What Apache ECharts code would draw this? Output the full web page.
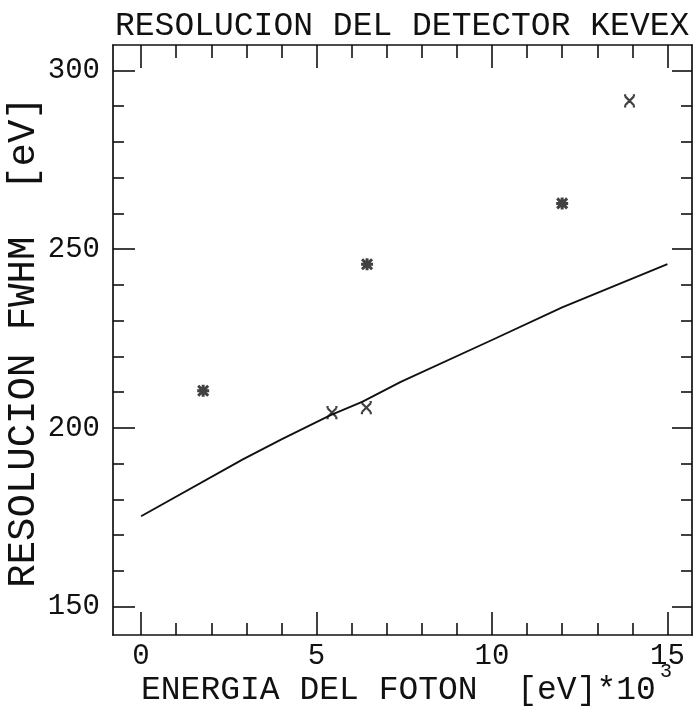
<!DOCTYPE html>
<html><head><meta charset="utf-8">
<script src="https://cdn.jsdelivr.net/npm/echarts@6/dist/echarts.min.js"></script>
<style>html,body{margin:0;padding:0;background:#fff}#c{width:695px;height:706px}</style>
</head><body><div id="c"></div>
<script>
// tick positions
const xMajor = [0, 5, 10, 15];
const xMinor = [1, 2, 3, 4, 6, 7, 8, 9, 11, 12, 13, 14];
const yMajor = [150, 200, 250, 300];
const yMinor = [160, 170, 180, 190, 210, 220, 230, 240, 260, 270, 280, 290];
// fitted resolution curve
const fitX = [0, 2.9, 4.0, 5.4, 6.3, 7.4, 10, 12, 15];
const fitY = [175.3, 191.2, 196.8, 203.6, 207.3, 212.9, 224.6, 233.7, 245.8];
// measured points (asterisk marks)
const starX = [1.77, 6.44, 12.0];
const starY = [210.4, 245.8, 262.8];
// measured points (cross marks)
const crossX = [5.44, 6.42, 13.92];
const crossY = [204.3, 205.7, 291.5];

const FONT = 'Liberation Mono';
const INK = '#111';
const X_MIN = -0.8, X_MAX = 15.7, Y_MIN = 142.1, Y_MAX = 307.1;

function zip(a, b) { return a.map((v, i) => [v, b[i]]); }

function xAx(pos, ticks, len, labels, line) {
  return {
    type: 'value', position: pos, min: X_MIN, max: X_MAX,
    axisLine: { show: line, onZero: false, lineStyle: { color: INK, width: 1.7 } },
    axisTick: { show: true, inside: true, length: len, customValues: ticks, lineStyle: { color: INK, width: 1.6 } },
    axisLabel: { show: labels, customValues: ticks, margin: 7, color: INK, fontFamily: FONT, fontSize: 29 },
    splitLine: { show: false }
  };
}
function yAx(pos, ticks, len, labels, line) {
  return {
    type: 'value', position: pos, min: Y_MIN, max: Y_MAX,
    axisLine: { show: line, onZero: false, lineStyle: { color: INK, width: 1.7 } },
    axisTick: { show: true, inside: true, length: len, customValues: ticks, lineStyle: { color: INK, width: 1.6 } },
    axisLabel: { show: labels, customValues: ticks, margin: 13, color: INK, fontFamily: FONT, fontSize: 29 },
    splitLine: { show: false }
  };
}

const chart = echarts.init(document.getElementById('c'), null, { renderer: 'canvas' });
chart.setOption({
  animation: false,
  backgroundColor: '#fff',
  title: {
    text: 'RESOLUCION DEL DETECTOR KEVEX', left: 110, top: 5,
    textStyle: { fontFamily: FONT, fontSize: 33, fontWeight: 'normal', color: INK }
  },
  grid: { left: 113, right: 3, top: 45, bottom: 71, containLabel: false },
  xAxis: [
    xAx('bottom', xMajor, 23, true, true),
    xAx('bottom', xMinor, 12, false, false),
    xAx('top', xMajor, 23, false, true),
    xAx('top', xMinor, 13, false, false)
  ],
  yAxis: [
    yAx('left', yMajor, 22, true, true),
    yAx('left', yMinor, 11, false, false),
    yAx('right', yMajor, 20, false, true),
    yAx('right', yMinor, 11, false, false)
  ],
  graphic: [
    { type: 'text', x: 141, y: 690, style: { text: 'ENERGIA DEL FOTON  [eV]*10', font: '33px "' + FONT + '"', fill: INK, verticalAlign: 'middle', align: 'left' } },
    { type: 'text', x: 660, y: 672, style: { text: '3', font: '20px "' + FONT + '"', fill: INK, verticalAlign: 'middle', align: 'left' } },
    { type: 'text', x: 24, y: 342, rotation: Math.PI / 2, style: { text: 'RESOLUCION FWHM  [eV]', font: '39px "' + FONT + '"', fill: INK, verticalAlign: 'middle', align: 'center' } }
  ],
  series: [
    {
      type: 'line', data: zip(fitX, fitY), showSymbol: false, smooth: false,
      lineStyle: { color: INK, width: 1.9 }, xAxisIndex: 0, yAxisIndex: 0, z: 2
    },
    {
      type: 'scatter', data: zip(starX, starY), xAxisIndex: 0, yAxisIndex: 0,
      symbol: 'path://M0,0L10,10M10,0L0,10M5,-1L5,11M-1,5L11,5', symbolSize: 12,
      itemStyle: { color: 'none', borderColor: INK, borderWidth: 3 }, z: 3
    },
    {
      type: 'scatter', data: zip(crossX, crossY), xAxisIndex: 0, yAxisIndex: 0,
      symbol: 'path://M1,1L9,9M9,1L1,9M0,0L2,0M8,0L10,0M0,10L2,10M8,10L10,10', symbolSize: 11,
      itemStyle: { color: 'none', borderColor: INK, borderWidth: 2.2 }, z: 3
    }
  ]
});
</script></body></html>
